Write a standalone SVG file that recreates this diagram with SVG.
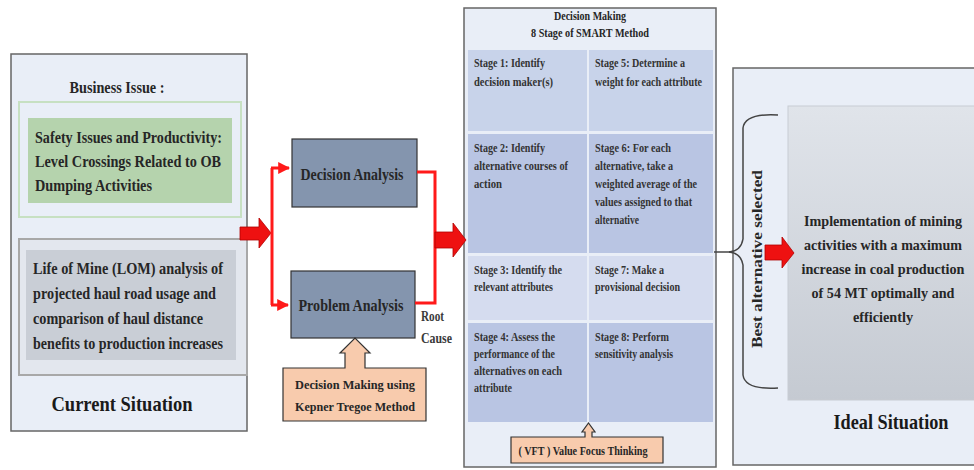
<svg xmlns="http://www.w3.org/2000/svg" width="974" height="470" viewBox="0 0 974 470" font-family="'Liberation Serif', 'Times New Roman', 'DejaVu Serif', serif">
<style>
text{font-family:'Liberation Serif','Times New Roman','DejaVu Serif',serif;font-weight:bold;fill:#262626}
.t15{font-size:16px}
.t14{font-size:14px}
.t12{font-size:12.5px}
.s{font-size:12px;fill:#333}
.big{font-size:22px;fill:#1a1a1a}
.panel{fill:#e9eef7;stroke:#666;stroke-width:1.5}
.kt{fill:#f8cbad;stroke:#333;stroke-width:1.2}
.red{fill:#ee1111;stroke:#b00000;stroke-width:0.8}
.rl{fill:none;stroke:#ff1a1a;stroke-width:3}
.rc{font-size:14px;fill:#3a3a3a}
</style>
<defs>
<linearGradient id="g1" x1="0" y1="0" x2="0" y2="1">
<stop offset="0" stop-color="#e0e4ea"/>
<stop offset="1" stop-color="#c5cad2"/>
</linearGradient>
<marker id="ah" viewBox="0 0 10 10" refX="9" refY="5" markerWidth="4" markerHeight="4" markerUnits="strokeWidth" orient="auto">
<path d="M0,0 L10,5 L0,10 Z" fill="#ff1a1a"/>
</marker>
</defs>

<g id="current-situation">
<rect class="panel" x="11" y="54" width="236" height="377"/>
<text class="t15" x="117" y="93" text-anchor="middle" textLength="95" lengthAdjust="spacingAndGlyphs">Business Issue :</text>
<rect x="19" y="102" width="222" height="115" fill="none" stroke="#c7e0c2" stroke-width="2"/>
<rect x="28" y="118" width="204" height="85" fill="#b5d3ad"/>
<text class="t15" x="35" y="143" textLength="187" lengthAdjust="spacingAndGlyphs">Safety Issues and Productivity:</text>
<text class="t15" x="35" y="167" textLength="186" lengthAdjust="spacingAndGlyphs">Level Crossings Related to OB</text>
<text class="t15" x="35" y="191" textLength="117" lengthAdjust="spacingAndGlyphs">Dumping Activities</text>
<rect x="19" y="239" width="228" height="136" fill="#e3e7ee" stroke="#a8a8a8" stroke-width="2"/>
<rect x="26" y="250" width="210" height="110" fill="#c9ced6"/>
<text class="t15" x="33" y="274" textLength="190" lengthAdjust="spacingAndGlyphs">Life of Mine (LOM) analysis of</text>
<text class="t15" x="33" y="299" textLength="183" lengthAdjust="spacingAndGlyphs">projected haul road usage and</text>
<text class="t15" x="33" y="324" textLength="170" lengthAdjust="spacingAndGlyphs">comparison of haul distance</text>
<text class="t15" x="33" y="349" textLength="190" lengthAdjust="spacingAndGlyphs">benefits to production increases</text>
<text class="big" x="122" y="411" text-anchor="middle" textLength="141" lengthAdjust="spacingAndGlyphs">Current Situation</text>
</g>

<g id="decision-analysis">
<rect x="292" y="139" width="125" height="68" fill="#8495ae" stroke="#333" stroke-width="1.2"/>
<text class="t15" x="352" y="180" text-anchor="middle" textLength="103" lengthAdjust="spacingAndGlyphs">Decision Analysis</text>
</g>

<g id="problem-analysis">
<rect x="291" y="271" width="124" height="67" fill="#8495ae" stroke="#333" stroke-width="1.2"/>
<text class="t15" x="351" y="311" text-anchor="middle" textLength="105" lengthAdjust="spacingAndGlyphs">Problem Analysis</text>
</g>

<g id="kepner-tregoe">
<path class="kt" d="M283,368 H345 V353 H340 L355,338 L370,353 H365 V368 H426 V421 H283 Z"/>
<text class="t12" x="355" y="389" text-anchor="middle" textLength="120" lengthAdjust="spacingAndGlyphs">Decision Making using</text>
<text class="t12" x="355" y="411" text-anchor="middle" textLength="120" lengthAdjust="spacingAndGlyphs">Kepner Tregoe Method</text>
</g>

<g id="smart-method">
<rect class="panel" x="464" y="8" width="252" height="459" stroke="#555"/>
<text class="t12" x="590" y="20" text-anchor="middle" textLength="72" lengthAdjust="spacingAndGlyphs">Decision Making</text>
<text class="t12" x="590" y="37" text-anchor="middle" textLength="118" lengthAdjust="spacingAndGlyphs">8 Stage of SMART Method</text>
<rect x="468" y="50" width="119" height="81" fill="#c8d3ea"/>
<rect x="589" y="50" width="124" height="81" fill="#c8d3ea"/>
<rect x="468" y="134" width="119" height="119" fill="#b9c5e3"/>
<rect x="589" y="134" width="124" height="119" fill="#b9c5e3"/>
<rect x="468" y="256" width="119" height="64" fill="#d5dcef"/>
<rect x="589" y="256" width="124" height="64" fill="#d5dcef"/>
<rect x="468" y="323" width="119" height="99" fill="#b9c5e3"/>
<rect x="589" y="323" width="124" height="99" fill="#b9c5e3"/>
<text class="s" x="474" y="67" textLength="71" lengthAdjust="spacingAndGlyphs">Stage 1: Identify</text>
<text class="s" x="474" y="86" textLength="79" lengthAdjust="spacingAndGlyphs">decision maker(s)</text>
<text class="s" x="595" y="67" textLength="90" lengthAdjust="spacingAndGlyphs">Stage 5: Determine a</text>
<text class="s" x="595" y="86" textLength="107" lengthAdjust="spacingAndGlyphs">weight for each attribute</text>
<text class="s" x="474" y="152" textLength="71" lengthAdjust="spacingAndGlyphs">Stage 2: Identify</text>
<text class="s" x="474" y="170" textLength="94" lengthAdjust="spacingAndGlyphs">alternative courses of</text>
<text class="s" x="474" y="188" textLength="28" lengthAdjust="spacingAndGlyphs">action</text>
<text class="s" x="595" y="152" textLength="76" lengthAdjust="spacingAndGlyphs">Stage 6: For each</text>
<text class="s" x="595" y="170" textLength="78" lengthAdjust="spacingAndGlyphs">alternative, take a</text>
<text class="s" x="595" y="188" textLength="102" lengthAdjust="spacingAndGlyphs">weighted average of the</text>
<text class="s" x="595" y="206" textLength="97" lengthAdjust="spacingAndGlyphs">values assigned to that</text>
<text class="s" x="595" y="224" textLength="44" lengthAdjust="spacingAndGlyphs">alternative</text>
<text class="s" x="474" y="274" textLength="88" lengthAdjust="spacingAndGlyphs">Stage 3: Identify the</text>
<text class="s" x="474" y="291" textLength="79" lengthAdjust="spacingAndGlyphs">relevant attributes</text>
<text class="s" x="595" y="274" textLength="69" lengthAdjust="spacingAndGlyphs">Stage 7: Make a</text>
<text class="s" x="595" y="291" textLength="85" lengthAdjust="spacingAndGlyphs">provisional decision</text>
<text class="s" x="474" y="341" textLength="81" lengthAdjust="spacingAndGlyphs">Stage 4: Assess the</text>
<text class="s" x="474" y="358" textLength="81" lengthAdjust="spacingAndGlyphs">performance of the</text>
<text class="s" x="474" y="375" textLength="88" lengthAdjust="spacingAndGlyphs">alternatives on each</text>
<text class="s" x="474" y="392" textLength="38" lengthAdjust="spacingAndGlyphs">attribute</text>
<text class="s" x="595" y="341" textLength="74" lengthAdjust="spacingAndGlyphs">Stage 8: Perform</text>
<text class="s" x="595" y="358" textLength="78" lengthAdjust="spacingAndGlyphs">sensitivity analysis</text>
</g>

<g id="vft">
<path class="kt" d="M511,437 H585 V432 H582 L588.5,423 L595,432 H592 V437 H663 V463 H511 Z"/>
<text class="t12" x="583" y="455" text-anchor="middle" textLength="129" lengthAdjust="spacingAndGlyphs">( VFT ) Value Focus Thinking</text>
</g>

<g id="ideal-situation">
<rect class="panel" x="733" y="68" width="250" height="397"/>
<rect x="788" y="106" width="200" height="294" fill="url(#g1)" stroke="#c8ccd3"/>
<text class="t14" x="883" y="226" text-anchor="middle" textLength="158" lengthAdjust="spacingAndGlyphs">Implementation of mining</text>
<text class="t14" x="883" y="250" text-anchor="middle" textLength="158" lengthAdjust="spacingAndGlyphs">activities with a maximum</text>
<text class="t14" x="883" y="274" text-anchor="middle" textLength="163" lengthAdjust="spacingAndGlyphs">increase in coal production</text>
<text class="t14" x="883" y="298" text-anchor="middle" textLength="143" lengthAdjust="spacingAndGlyphs">of 54 MT optimally and</text>
<text class="t14" x="883" y="322" text-anchor="middle" textLength="60" lengthAdjust="spacingAndGlyphs">efficiently</text>
<text class="big" x="891" y="429" text-anchor="middle" textLength="115" lengthAdjust="spacingAndGlyphs">Ideal Situation</text>
<text class="t12" transform="translate(762,259) rotate(-90)" x="0" y="0" text-anchor="middle" textLength="178" lengthAdjust="spacingAndGlyphs" style="font-size:14px">Best alternative selected</text>
</g>

<g id="connectors">
<path class="red" d="M240,227 H259 V218 L271,233 L259,248 V240 H240 Z"/>
<path class="rl" d="M272,168 V305"/>
<path class="rl" d="M271,168 H289" marker-end="url(#ah)"/>
<path class="rl" d="M271,305 H288" marker-end="url(#ah)"/>
<path class="rl" d="M417,172 H435 V303 H415"/>
<path class="red" d="M435,232 H453 V223 L466,240 L453,257 V248 H435 Z"/>
<text class="rc" x="421" y="321" textLength="23" lengthAdjust="spacingAndGlyphs">Root</text>
<text class="rc" x="421" y="343" textLength="31" lengthAdjust="spacingAndGlyphs">Cause</text>
<path d="M778,115 Q745,113 743,128 V239 Q741,251 729,252 Q741,253 743,265 V375 Q745,390 778,388" fill="none" stroke="#444" stroke-width="1.5"/>
<path d="M714,252 H730" fill="none" stroke="#444" stroke-width="1.5"/>
<path class="red" d="M765,245 H782 V237 L794,253 L782,268 V260 H765 Z"/>
</g>
</svg>
